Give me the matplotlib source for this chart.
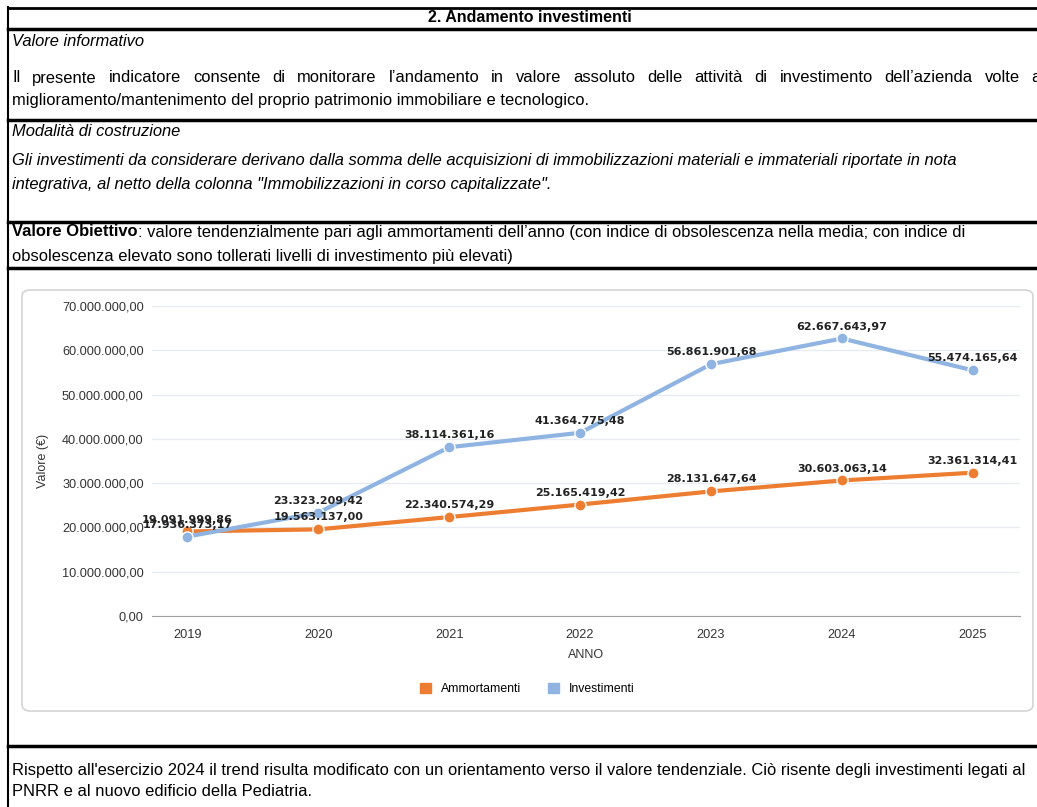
import matplotlib
matplotlib.use("Agg")
import matplotlib.pyplot as plt
from matplotlib.lines import Line2D
from matplotlib.patches import FancyBboxPatch, Patch

anni = ["2019", "2020", "2021", "2022", "2023", "2024", "2025"]
ammortamenti = [19091999.86, 19563137.00, 22340574.29, 25165419.42, 28131647.64, 30603063.14, 32361314.41]
investimenti = [17936373.17, 23323209.42, 38114361.16, 41364775.48, 56861901.68, 62667643.97, 55474165.64]
serie = ["Ammortamenti", "Investimenti"]
colori = ["#ED7D31", "#8FB4E2"]

W, H = 1037, 807
fig = plt.figure(figsize=(W / 100, H / 100), dpi=100)
renderer = fig.canvas.get_renderer()
BODY = "Liberation Sans"
FS = 11.9


def fx(x):
    return x / W


def fy(y):
    return 1 - y / H


def hline(y, lw=2.5, x0=8, x1=W):
    fig.add_artist(Line2D([fx(x0), fx(x1)], [fy(y), fy(y)], color="black", lw=lw))


def testo(x, y, s, **kw):
    kw.setdefault("family", BODY)
    kw.setdefault("fontsize", FS)
    return fig.text(fx(x), fy(y), s, va="center", **kw)


def giustifica(x0, x1, y, riga, **kw):
    parole = riga.split()
    objs = [testo(0, y, p, **kw) for p in parole]
    larg = [o.get_window_extent(renderer).width for o in objs]
    gap = (x1 - x0 - sum(larg)) / (len(parole) - 1)
    x = x0
    for o, w in zip(objs, larg):
        o.set_x(fx(x))
        x += w + gap


def itaformat(v):
    return f"{v:,.2f}".replace(",", "X").replace(".", ",").replace("X", ".")


# bordi tabella
fig.add_artist(Line2D([fx(8), fx(8)], [fy(7), fy(H)], color="black", lw=1.5))
hline(8, 2)
hline(29, 2.5)
hline(120, 2.5)
hline(222, 2.5)
hline(268, 2.5)
hline(746, 2.5)

testo(530, 18, "2. Andamento investimenti", weight="bold", ha="center", fontsize=11.5)
testo(12, 42, "Valore informativo", style="italic")
giustifica(12, 1041, 78, "Il presente indicatore consente di monitorare l’andamento in valore assoluto "
           "delle attività di investimento dell’azienda volte a")
testo(12, 100, "miglioramento/mantenimento del proprio patrimonio immobiliare e tecnologico.")
testo(12, 131, "Modalità di costruzione", style="italic")
testo(12, 161, "Gli investimenti da considerare derivano dalla somma delle acquisizioni di immobilizzazioni "
      "materiali e immateriali riportate in nota", style="italic")
testo(12, 184, "integrativa, al netto della colonna \"Immobilizzazioni in corso capitalizzate\".", style="italic")
t = testo(12, 232, "Valore Obiettivo", weight="bold")
wb = t.get_window_extent(renderer).width
testo(12 + wb, 232, ": valore tendenzialmente pari agli ammortamenti dell’anno (con indice di obsolescenza "
      "nella media; con indice di")
testo(12, 257, "obsolescenza elevato sono tollerati livelli di investimento più elevati)")
testo(12, 770, "Rispetto all'esercizio 2024 il trend risulta modificato con un orientamento verso il valore "
      "tendenziale. Ciò risente degli investimenti legati al")
testo(12, 792, "PNRR e al nuovo edificio della Pediatria.")

# riquadro grafico
box = FancyBboxPatch((fx(22), fy(711)), fx(1033) - fx(22), fy(290) - fy(711),
                     boxstyle="round,pad=0,rounding_size=0.008", transform=fig.transFigure,
                     facecolor="white", edgecolor="#d4d4d4", lw=1.2)
fig.add_artist(box)

ax = fig.add_axes([fx(152), fy(616), fx(1020) - fx(152), fy(306) - fy(616)])
ax.set_zorder(2)
ax.patch.set_alpha(0)
x = list(range(len(anni)))
for nome, valori, col in zip(serie, [ammortamenti, investimenti], colori):
    ax.plot(x, valori, color=col, lw=3, marker="o", ms=8, mec="white", mew=1, zorder=3)
    for xi, v in zip(x, valori):
        ax.annotate(itaformat(v), (xi, v), xytext=(0, 5), textcoords="offset points",
                    ha="center", va="bottom", fontsize=8, weight="bold", family="DejaVu Sans",
                    color="#222222", zorder=4)

ax.set_xlim(-0.27, 6.36)
ax.set_ylim(0, 70000000)
ax.set_yticks(range(0, 70000001, 10000000))
ax.set_yticklabels([itaformat(v) for v in range(0, 70000001, 10000000)], family=BODY, fontsize=9.2,
                   color="#333333")
ax.set_xticks(x)
ax.set_xticklabels(anni, family=BODY, fontsize=9.2, color="#333333")
ax.tick_params(length=0, axis="y", pad=6)
ax.tick_params(length=0, axis="x", pad=9)
ax.grid(axis="y", color="#e6ecf2", lw=1)
ax.set_axisbelow(True)
for s in ["top", "right", "left"]:
    ax.spines[s].set_visible(False)
ax.spines["bottom"].set_color("#a0a0a0")
ax.set_xlabel("ANNO", family=BODY, fontsize=9, color="#333333", labelpad=6)
ax.set_ylabel("Valore (€)", family=BODY, fontsize=9, color="#333333", labelpad=9)

handles = [Patch(color=c) for c in colori]
fig.legend(handles, serie, loc="center", bbox_to_anchor=(fx(527), fy(689)), ncol=2, frameon=False,
           prop={"family": BODY, "size": 8.8}, handlelength=0.9, handleheight=0.9, columnspacing=2.2,
           handletextpad=0.8)

fig.savefig("out.png", dpi=100)
